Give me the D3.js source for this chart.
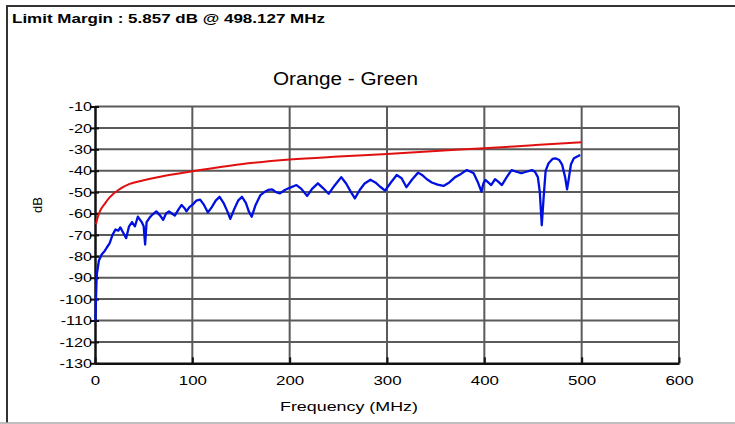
<!DOCTYPE html>
<html><head><meta charset="utf-8">
<script src="https://cdn.jsdelivr.net/npm/d3@7/dist/d3.min.js"></script>
<style>html,body{margin:0;padding:0;background:#fff;}svg{display:block;}text{font-family:"Liberation Sans",Arial,sans-serif;fill:#000;}</style>
</head><body><svg id="c" width="735" height="424"></svg>
<script>
const headerText = "Limit Margin : 5.857 dB @ 498.127 MHz";
const titleText = "Orange - Green";
const xLabel = "Frequency (MHz)";
const yLabel = "dB";
const xTicks = [0,100,200,300,400,500,600];
const yTicks = [-10,-20,-30,-40,-50,-60,-70,-80,-90,-100,-110,-120,-130];
// Limit line (freq MHz, dB)
const limitFreq = [1,2,5,10,15,25,35,50,67,100,150,200,250,300,350,400,450,500];
const limitDb   = [-65,-63,-59,-55.5,-52.5,-48.7,-46.3,-44.5,-42.8,-40.3,-37,-34.8,-33.4,-32.2,-30.8,-29.5,-28.1,-26.7];
// Measured pair (freq MHz, dB)
const measFreq = [0.5,1,1.5,2,3,4,5,7,10,12,15,18,21,24,26,29,32,35,38,41,44,48,50,51.5,53,56,59,63,67,70,73,76,79,82,86,89,92,94,97,100,104,108,112,116,120,124,128,132,136,139,143,147,151,155,158,161,165,170,174,178,182,186,190,195,200,207,212,218,223,229,234,240,246,253,258,263,267,272,277,283,288,293,298,304,310,315,320,326,332,336,341,346,352,358,364,370,376,382,386,389,393,397,399,401,404,407,411,414,418,423,428,433,438,443,449,452,455,457,459,461,463,466,470,473,477,480,483,485,487,489,492,495,498.5];
const measDb = [-110,-100,-92,-88,-85,-82,-81,-79,-77.5,-76,-74,-70,-67.5,-68,-66.5,-69,-71.5,-66,-64,-66,-61.5,-64,-66,-74.5,-64,-62,-60.5,-59,-61,-63,-60,-59,-60,-61,-58,-56,-57.5,-59,-57,-56,-54,-53.5,-56,-59.5,-57,-54,-52.2,-55,-59,-62.5,-58,-54,-52.2,-55,-59,-61.5,-56,-51.4,-50,-49,-48.7,-50,-50.6,-49,-48,-46.7,-48.5,-51.8,-48.5,-45.9,-48,-50.8,-47,-43,-46,-50,-52.9,-49,-46,-44.2,-45.5,-47.5,-49.3,-45.5,-42,-43.5,-47.7,-44,-40.9,-42,-44,-45.5,-46.5,-47.1,-45.5,-43,-41.5,-39.7,-40.5,-41.2,-45,-49.8,-46,-44.3,-45.5,-46.7,-44,-45,-46.7,-43,-39.7,-40.5,-41.2,-40.5,-39.7,-40.5,-43,-50,-65.5,-52,-40,-36.5,-34.5,-34.2,-35,-37.3,-43,-48.7,-43,-37,-34.2,-33.5,-32.7];

const svg = d3.select("#c");
const x = d3.scaleLinear().domain([0,600]).range([95,679]);
const y = d3.scaleLinear().domain([-130,-10]).range([363.3,106.5]);

// Outer frame
svg.append("line").attr("x1",7).attr("x2",735).attr("y1",6).attr("y2",6).attr("stroke","#333").attr("stroke-width",2);
svg.append("line").attr("x1",7).attr("x2",7).attr("y1",5).attr("y2",423).attr("stroke","#333").attr("stroke-width",2);
svg.append("line").attr("x1",0).attr("x2",735).attr("y1",423).attr("y2",423).attr("stroke","#aaa").attr("stroke-width",1.5);

function stretch(sel, factor){
  sel.each(function(){ const w=this.getComputedTextLength(); this.setAttribute("textLength", w*factor); this.setAttribute("lengthAdjust","spacingAndGlyphs"); });
}

// Header
svg.append("text").attr("x",12).attr("y",23).style("font-size","13.5px").style("font-weight","bold")
  .text(headerText).attr("textLength",313).attr("lengthAdjust","spacingAndGlyphs");
// Title
svg.append("text").attr("x",273).attr("y",85).style("font-size","18px")
  .text(titleText).attr("textLength",145).attr("lengthAdjust","spacingAndGlyphs");

// Grid
const grid = svg.append("g");
grid.selectAll("line.gx").data(xTicks.slice(1)).join("line")
  .attr("x1",d=>x(d)).attr("x2",d=>x(d)).attr("y1",y(-10)).attr("y2",y(-130))
  .attr("stroke","#5a5a5a").attr("stroke-width",2);
grid.selectAll("line.gy").data(yTicks.slice(0,-1)).join("line")
  .attr("x1",x(0)).attr("x2",x(600)).attr("y1",d=>y(d)).attr("y2",d=>y(d))
  .attr("stroke","#5a5a5a").attr("stroke-width",2);

// Axes
const fmt = d => String(d);
const xAxis = d3.axisBottom(x).tickValues(xTicks).tickSizeInner(-6).tickSizeOuter(0).tickPadding(12).tickFormat(fmt);
const gx = svg.append("g").attr("transform",`translate(0,${y(-130)})`).call(xAxis);
gx.select(".domain").attr("stroke","#111").attr("stroke-width",2.5);
gx.selectAll(".tick line").attr("stroke","#111").attr("stroke-width",2);
gx.selectAll(".tick text").style("font-size","13.5px").style("font-family","'Liberation Sans',Arial,sans-serif").attr("fill","#000");
stretch(gx.selectAll(".tick text"),1.25);

const yAxis = d3.axisLeft(y).tickValues(yTicks).tickSizeInner(5).tickSizeOuter(0).tickPadding(2).tickFormat(fmt);
const gy = svg.append("g").attr("transform",`translate(${x(0)},0)`).call(yAxis);
gy.select(".domain").attr("stroke","#111").attr("stroke-width",2.5);
gy.selectAll(".tick line").attr("x2",4).attr("x1",-5).attr("stroke","#111").attr("stroke-width",2);
gy.selectAll(".tick text").style("font-size","13px").style("font-family","'Liberation Sans',Arial,sans-serif").attr("fill","#000");
stretch(gy.selectAll(".tick text"),1.25);
gy.selectAll(".tick text").attr("x",-3);

// Axis labels
svg.append("text").attr("x",280).attr("y",411).style("font-size","13.5px")
  .text(xLabel).attr("textLength",138).attr("lengthAdjust","spacingAndGlyphs");
svg.append("text").attr("transform","translate(42,205) rotate(-90)").attr("text-anchor","middle").style("font-size","13px").text(yLabel);

// Lines
const limitData = limitFreq.map((f,i)=>[f,limitDb[i]]);
const measData = measFreq.map((f,i)=>[f,measDb[i]]);
const lineGen = d3.line().x(d=>x(d[0])).y(d=>y(d[1]));
svg.append("path").datum(measData).attr("d",lineGen).attr("fill","none").attr("stroke","#0010e0").attr("stroke-width",2.3).attr("stroke-linejoin","round");
svg.append("path").datum(limitData).attr("d",d3.line().x(d=>x(d[0])).y(d=>y(d[1])).curve(d3.curveMonotoneX)).attr("fill","none").attr("stroke","#e01010").attr("stroke-width",2);
</script></body></html>
